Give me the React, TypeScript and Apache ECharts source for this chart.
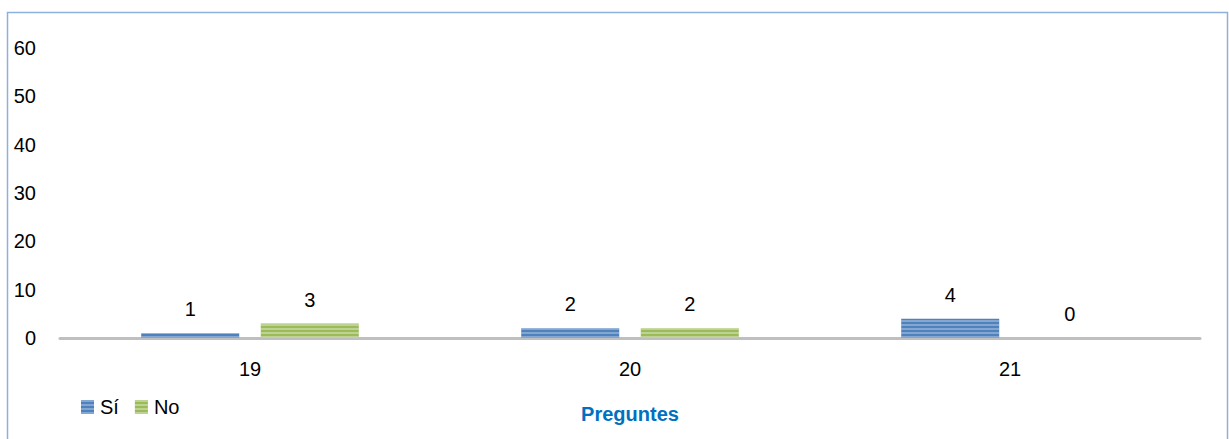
import React, { useEffect, useRef } from "react";
import * as echarts from "echarts";

const categories = ["19", "20", "21"];
const seriesNames = ["Sí", "No"];
const siValues = [1, 2, 4];
const noValues = [3, 2, 0];
const yTicks = [0, 10, 20, 30, 40, 50, 60];

const FONT = "'Liberation Sans', Arial, sans-serif";
const FS = 20;

export default function App() {
  const ref = useRef<HTMLDivElement>(null);
  useEffect(() => {
    if (!ref.current) return;
    const chart = echarts.init(ref.current, undefined, { renderer: "svg" });
    const stripe = (c: string) => ({
      symbol: "rect",
      symbolSize: 1,
      dashArrayX: [1, 0],
      dashArrayY: [2, 2],
      rotation: 0,
      color: c,
    });
    const labelCfg = {
      show: true,
      position: "top",
      distance: 14,
      color: "#000",
      fontSize: FS,
      fontFamily: FONT,
    };
    chart.setOption({
      animation: false,
      backgroundColor: "#fff",
      graphic: [
        {
          type: "rect",
          shape: { x: 7.5, y: 12.5, width: 1220, height: 440 },
          style: { fill: "none", stroke: "#8EB0DC", lineWidth: 1.5 },
          silent: true,
        },
      ],
      grid: { left: 60, right: 29, top: 48, bottom: 101, containLabel: false },
      legend: {
        left: 81,
        top: 397,
        padding: 0,
        itemWidth: 13,
        itemHeight: 14,
        itemGap: 16,
        icon: "rect",
        data: seriesNames,
        textStyle: { fontSize: FS, fontFamily: FONT, color: "#000", padding: [0, 0, 0, 1] },
      },
      xAxis: {
        type: "category",
        data: categories,
        name: "Preguntes",
        nameLocation: "middle",
        nameGap: 66,
        nameTextStyle: { color: "#0070C0", fontWeight: "bold", fontSize: 20, fontFamily: FONT },
        axisLine: { lineStyle: { color: "#BFBFBF", width: 3 } },
        axisTick: { show: false },
        axisLabel: { fontSize: FS, fontFamily: FONT, color: "#000", margin: 21 },
      },
      yAxis: {
        type: "value",
        min: yTicks[0],
        max: yTicks[yTicks.length - 1],
        interval: 10,
        axisLine: { show: false },
        axisTick: { show: false },
        splitLine: { show: false },
        axisLabel: { fontSize: FS, fontFamily: FONT, color: "#000", margin: 24 },
      },
      series: [
        {
          name: seriesNames[0],
          type: "bar",
          data: siValues,
          barWidth: 98,
          barGap: "22%",
          itemStyle: { color: "#4F81BD", decal: stripe("rgba(255,255,255,0.3)") },
          label: labelCfg,
        },
        {
          name: seriesNames[1],
          type: "bar",
          data: noValues,
          barWidth: 98,
          itemStyle: { color: "#9BBB59", decal: stripe("rgba(255,255,255,0.35)") },
          label: labelCfg,
        },
      ],
    });
    return () => chart.dispose();
  }, []);
  return (
    <div
      ref={ref}
      style={{ position: "absolute", left: 0, top: 0, width: 1229, height: 439 }}
    />
  );
}
